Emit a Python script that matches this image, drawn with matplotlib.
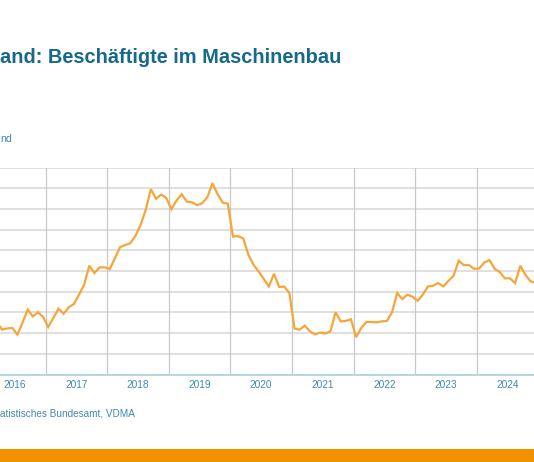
import matplotlib
matplotlib.use("Agg")
import matplotlib.pyplot as plt
from matplotlib.patches import Rectangle

# ---- data (Tausend, monthly, Mar 2016 - Dec 2024) ----
start_year = 2016
start_month = 3
values = [
    1015.2, 1011.7, 1012.3, 1012.5, 1009.3, 1015.2, 1021.4, 1018.1, 1020.1, 1017.8,  # 2016 Mar-Dec
    1013.0, 1017.4, 1021.8, 1019.4, 1022.5, 1024.1, 1028.6, 1033.4, 1042.6, 1039.1, 1041.8, 1041.8,  # 2017
    1041.0, 1046.3, 1051.6, 1052.6, 1053.5, 1057.1, 1062.4, 1069.6, 1079.6, 1075.0, 1077.0, 1075.4,  # 2018
    1069.9, 1074.1, 1077.2, 1073.6, 1073.3, 1071.9, 1072.8, 1075.7, 1082.5, 1077.2, 1073.1, 1072.6,  # 2019
    1056.7, 1056.9, 1055.8, 1047.9, 1043.1, 1039.8, 1036.2, 1032.6, 1038.7, 1032.3, 1032.5, 1029.4,  # 2020
    1012.2, 1011.7, 1013.6, 1010.9, 1009.4, 1010.3, 1009.8, 1010.9, 1020.1, 1015.7, 1015.9, 1016.7,  # 2021
    1008.0, 1012.5, 1015.4, 1015.4, 1015.2, 1015.7, 1015.9, 1020.1, 1029.4, 1026.5, 1028.6, 1027.6,  # 2022
    1025.6, 1028.6, 1032.6, 1032.9, 1034.2, 1032.6, 1035.3, 1037.8, 1045.0, 1042.9, 1042.9, 1041.1,  # 2023
    1041.3, 1044.2, 1045.3, 1041.1, 1039.5, 1036.5, 1036.5, 1034.2, 1042.6, 1038.2, 1035.0, 1034.5,  # 2024
]
years = [2016, 2017, 2018, 2019, 2020, 2021, 2022, 2023, 2024]
year_labels = [str(y) for y in years]
y_ticks = [1000, 1010, 1020, 1030, 1040, 1050, 1060, 1070, 1080, 1090]

title_text = "and: Beschäftigte im Maschinenbau"
unit_text = "nd"
source_text = "atistisches Bundesamt, VDMA"

# time positions (mid-month)
t = []
for i in range(len(values)):
    m = start_month - 1 + i
    t.append(start_year + m // 12 + ((m % 12) + 0.5) / 12.0)

plt.rcParams['font.family'] = ['Liberation Sans', 'DejaVu Sans']

W, H = 534, 462
fig = plt.figure(figsize=(W / 100, H / 100), dpi=100)
fig.patch.set_facecolor('white')

ax_bottom = (H - 374.5) / H
ax_top = (H - 167.7) / H
ax = fig.add_axes([0, ax_bottom, 1, ax_top - ax_bottom])

ax.set_xlim(2016.258, 2024.931)
ax.set_ylim(990, 1090)

for y in y_ticks:
    ax.axhline(y, color='#e0e0e0', lw=1.4, zorder=1)
for y in years[1:]:
    ax.axvline(y, color='#c8c8c8', lw=0.9, zorder=1)

ax.plot(t, values, color='#F6A638', lw=1.6, zorder=3, solid_joinstyle='miter')

for s in ['top', 'left', 'right']:
    ax.spines[s].set_visible(False)
ax.spines['bottom'].set_color('#a8cfdf')
ax.spines['bottom'].set_linewidth(1.2)
ax.spines['bottom'].set_zorder(4)

ax.set_yticks([])
ax.set_xticks([y + 0.5 for y in years])
ax.set_xticklabels(year_labels)
ax.tick_params(axis='x', length=0, pad=4.2, labelsize=7.3, labelcolor='#3f8aab')

fig.text(0.0, (H - 63.3) / H, title_text, fontsize=14.45, fontweight='bold',
         color='#16698a', ha='left', va='baseline')
fig.text(0.0, (H - 141.7) / H, unit_text, fontsize=7.6, color='#3f8aab',
         ha='left', va='baseline')
fig.text(0.0, (H - 416.3) / H, source_text, fontsize=7.2, color='#3f8aab',
         ha='left', va='baseline')

fig.patches.append(Rectangle((0, 0), 1, (H - 449.3) / H, transform=fig.transFigure,
                             facecolor='#F39200', edgecolor='none', zorder=0))

fig.savefig('out.png', dpi=100)
